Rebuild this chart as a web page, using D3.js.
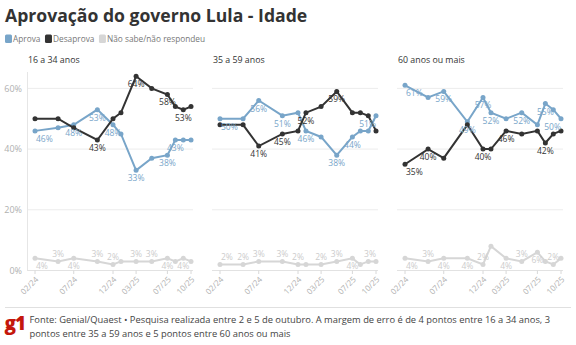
<!DOCTYPE html>
<html><head><meta charset="utf-8">
<script src="https://cdn.jsdelivr.net/npm/d3@7"></script>
<style>
html,body{margin:0;padding:0;background:#fff;}
svg{display:block;font-family:"Open Sans",sans-serif;}
</style></head>
<body><svg id="c" width="576" height="345"></svg>
<script>
// ---- data ----
const dates = ["2024-02","2024-05","2024-07","2024-10","2024-12","2025-01","2025-03","2025-05","2025-07","2025-08","2025-09","2025-10"];
const tickDates = ["2024-02","2024-07","2024-12","2025-03","2025-07","2025-10"];
const tickLabels = ["02/24","07/24","12/24","03/25","07/25","10/25"];
const yTicks = [0,20,40,60];
const panels = ["16 a 34 anos","35 a 59 anos","60 anos ou mais"];
const seriesNames = ["Aprova","Desaprova","Não sabe/não respondeu"];

const aprova16 = [46,47,48,53,48,45,33,37,38,43,43,43];
const desaprova16 = [50,50,47,43,50,52,64,60,58,54,53,54];
const nsnr16 = [4,3,4,3,2,3,3,3,4,3,4,3];
const aprova35 = [50,50,56,51,52,46,44,38,44,46,46,51];
const desaprova35 = [48,48,41,45,46,52,54,59,52,52,51,46];
const nsnr35 = [2,2,3,3,2,2,2,3,4,2,3,3];
const aprova60 = [61,57,59,49,57,52,50,52,48,55,53,50];
const desaprova60 = [35,40,37,48,40,40,46,45,46,42,45,46];
const nsnr60 = [4,3,4,4,2,8,4,3,6,3,2,4];

// which points carry a value label ("b" below, "a" above)
const labels16 = [
  {0:"b",2:"b",3:"b",4:"b",6:"b",8:"b",9:"b"},
  {3:"b",6:"b",8:"b",10:"b"},
  {0:"b",1:"a",2:"b",3:"a",4:"a",6:"a",7:"a",8:"b",10:"b"}];
const labels35 = [
  {0:"b",2:"b",3:"b",5:"b",7:"b",8:"b",11:"b"},
  {2:"b",3:"b",5:"b",7:"b"},
  {0:"a",1:"a",2:"a",3:"a",4:"a",6:"a",7:"a",8:"b",11:"a"}];
const labels60 = [
  {0:"b",2:"b",3:"b",4:"b",5:"b",7:"b",9:"b",11:"b"},
  {0:"b",1:"b",4:"b",6:"b",9:"b"},
  {0:"b",1:"a",2:"b",3:"b",4:"a",6:"b",7:"a",8:"b",10:"a"}];

const panelData = [
  [aprova16, desaprova16, nsnr16, labels16],
  [aprova35, desaprova35, nsnr35, labels35],
  [aprova60, desaprova60, nsnr60, labels60]];

// ---- styles ----
const colors = ["#78a5c9","#333333","#d6d6d6"];
const labelColors = ["#78a5c9","#333333","#cccccc"];

const svg = d3.select("#c");
const parse = d3.timeParse("%Y-%m");
const X = dates.map(parse);

svg.append("text").attr("x",5).attr("y",22).attr("font-size",17.6).attr("font-weight",700)
  .attr("fill","#333").text("Aprovação do governo Lula - Idade");

// legend
const lg = svg.append("g");
let lx = 5;
seriesNames.forEach((n,i)=>{
  lg.append("rect").attr("x",lx).attr("y",34.5).attr("width",7).attr("height",8.5).attr("rx",1.5).attr("fill",colors[i]);
  const t = lg.append("text").attr("x",lx+8).attr("y",42).attr("font-size",8.3).attr("fill","#777").text(n);
  lx += 8 + t.node().getComputedTextLength() + 4.5;
});

const y = d3.scaleLinear().domain([0,65.4]).range([270.5,72]);
const pLeft = [27,212,397], pW = 166;

panels.forEach((name,pi)=>{
  const g = svg.append("g").attr("transform",`translate(${pLeft[pi]},0)`);
  const x = d3.scaleTime().domain([X[0],X[X.length-1]]).range([8,164]);
  g.append("text").attr("x",1).attr("y",63).attr("font-size",8.8).attr("fill","#333").text(name);
  // grid
  g.selectAll(".grid").data(yTicks).join("line")
    .attr("x1",0).attr("x2",pW).attr("y1",d=>y(d)).attr("y2",d=>y(d))
    .attr("stroke",d=>d===0?"#e2e2e2":"#ececec").attr("stroke-width",1);
  if(pi===0){
    g.append("line").attr("x1",0.5).attr("x2",0.5).attr("y1",72).attr("y2",270.5).attr("stroke","#e6e6e6");
    g.selectAll(".yl").data(yTicks).join("text").attr("x",-5).attr("y",d=>y(d)+3.2)
      .attr("text-anchor","end").attr("font-size",9).attr("fill","#b0b0b0").text(d=>d+"%");
  }
  // x axis ticks
  const tv = tickDates.map(parse);
  g.selectAll(".tk").data(tv).join("line").attr("x1",d=>x(d)).attr("x2",d=>x(d))
    .attr("y1",270.5).attr("y2",274).attr("stroke","#d8d8d8");
  g.selectAll(".tl").data(tv).join("text")
    .attr("transform",d=>`translate(${x(d)+2},278) rotate(-45)`)
    .attr("text-anchor","end").attr("dy","0.35em").attr("font-size",8).attr("fill","#b0b0b0")
    .text((d,i)=>tickLabels[i]);

  const [a,dsp,ns,lab] = panelData[pi];
  const series = [ns,a,dsp];
  const idx = [2,0,1];
  const line = d3.line().x((d,i)=>x(X[i])).y(d=>y(d));
  series.forEach((s,k)=>{
    const ci = idx[k];
    g.append("path").datum(s).attr("d",line).attr("fill","none").attr("stroke",colors[ci]).attr("stroke-width",2);
    g.selectAll(null).data(s).join("circle").attr("cx",(d,i)=>x(X[i])).attr("cy",d=>y(d)).attr("r",2.5).attr("fill",colors[ci]);
  });
  series.forEach((s,k)=>{
    const ci = idx[k];
    const L = lab[ci];
    Object.keys(L).forEach(key=>{
      const i = +key;
      const pos = L[key];
      const anchor = i===0?"start":(i===s.length-1?"end":"middle");
      g.append("text").attr("x",x(X[i]) + (i===0?1:0)).attr("y",y(s[i]) + (pos==="b"?11:-4))
        .attr("text-anchor",anchor).attr("font-size",8.5).attr("fill",labelColors[ci]).text(s[i]+"%");
    });
  });
});

// footer
svg.append("line").attr("x1",5).attr("x2",571).attr("y1",307.5).attr("y2",307.5).attr("stroke","#e0e0e0");
svg.append("text").attr("x",4.5).attr("y",329.5).attr("font-size",19).attr("font-weight",800)
  .attr("fill","#c4170c").attr("letter-spacing",-1).text("g1");
const ft = svg.append("text").attr("font-size",9.35).attr("fill","#444");
ft.append("tspan").attr("x",29.5).attr("y",322.5).text("Fonte: Genial/Quaest • Pesquisa realizada entre 2 e 5 de outubro. A margem de erro é de 4 pontos entre 16 a 34 anos, 3");
ft.append("tspan").attr("x",29.5).attr("y",336.5).text("pontos entre 35 a 59 anos e 5 pontos entre 60 anos ou mais");
</script></body></html>
